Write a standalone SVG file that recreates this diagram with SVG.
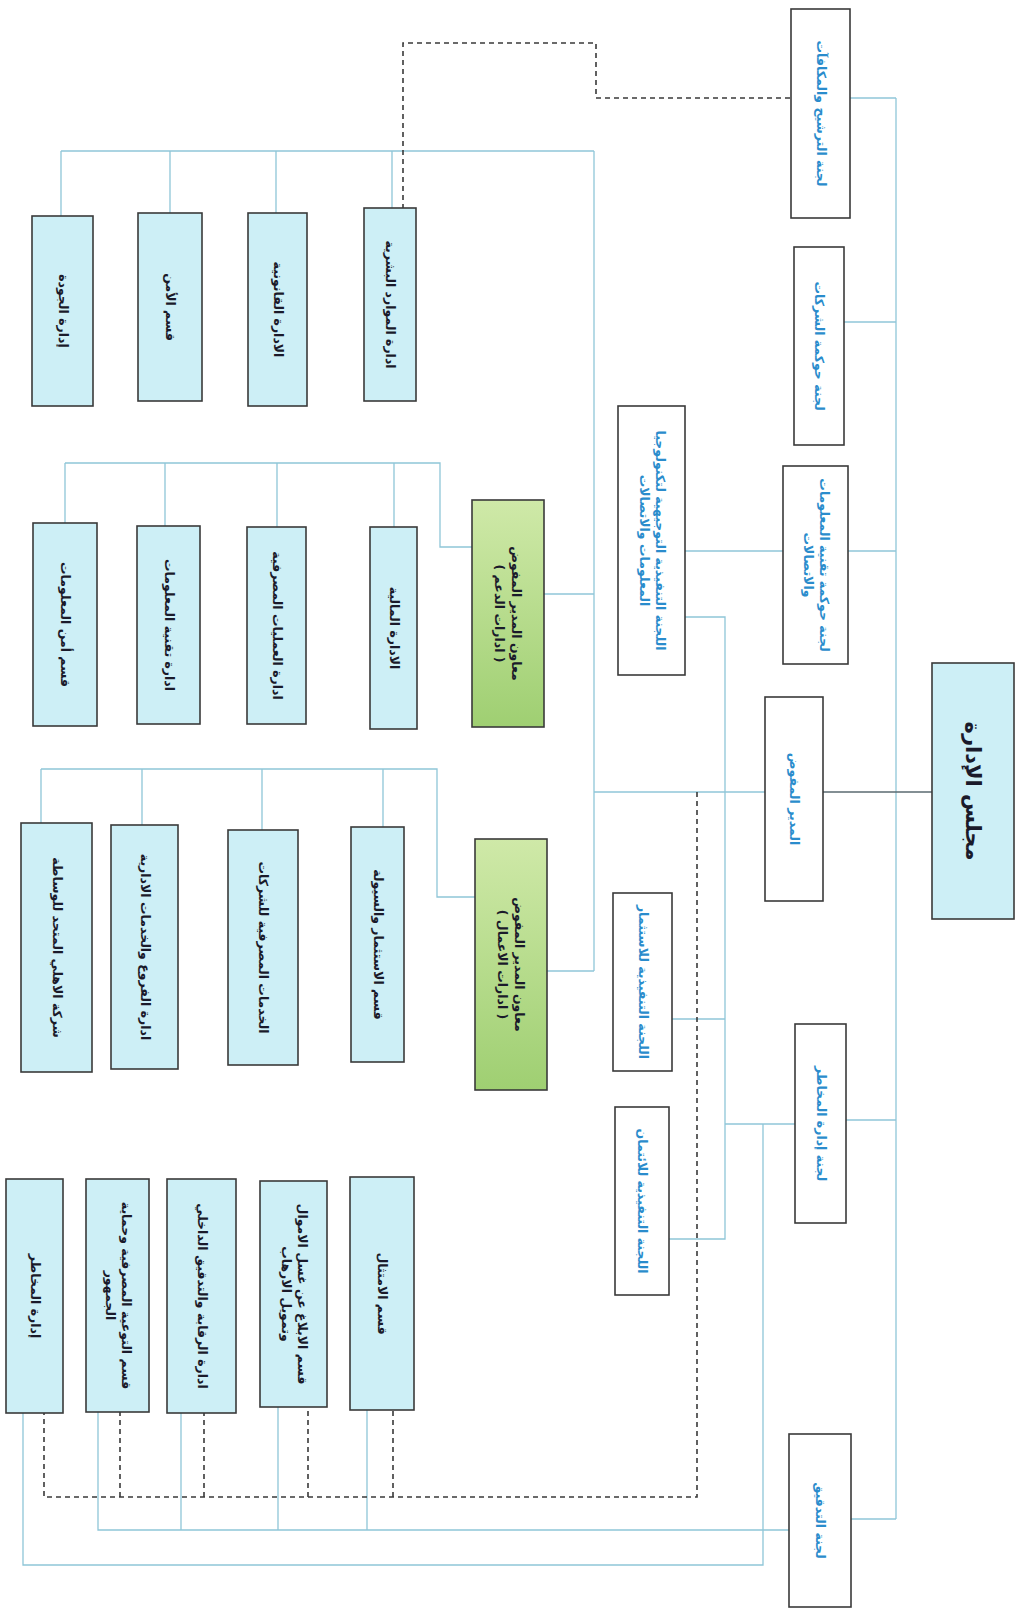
<svg xmlns="http://www.w3.org/2000/svg" width="1020" height="1614" viewBox="0 0 1020 1614">
<defs>
<linearGradient id="grn" x1="0" y1="0" x2="0" y2="1">
<stop offset="0" stop-color="#cfe9a8"/>
<stop offset="1" stop-color="#9fcf72"/>
</linearGradient>
<style>
.box{stroke:#3a3a3a;stroke-width:1.6}
.w{fill:#ffffff}
.b{fill:#cdeff6}
.g{fill:url(#grn)}
.ln{fill:none;stroke:#8fc6d8;stroke-width:1.3}
.dk{fill:none;stroke:#5a6a70;stroke-width:1.4}
.ds{fill:none;stroke:#3a3a3a;stroke-width:1.6;stroke-dasharray:5 4}
text{font-family:"DejaVu Sans",sans-serif;font-weight:bold;font-size:12.5px;text-anchor:middle;direction:rtl}
.tb{fill:#2a8ccc}
.tk{fill:#1a1a2a}
.big{font-size:21px}
</style>
</defs>
<rect width="1020" height="1614" fill="#ffffff"/>

<g id="connectors">
<path class="ln" d="M896 98 V1519"/>
<path class="ln" d="M850 98 H896"/>
<path class="ln" d="M844 322 H896"/>
<path class="ln" d="M848 551 H896"/>
<path class="ln" d="M846 1120 H896"/>
<path class="ln" d="M851 1519 H896"/>
<path class="dk" d="M932 792 H823"/>
<path class="ln" d="M765 792 H594"/>
<path class="ln" d="M594 151 V971"/>
<path class="ln" d="M61 151 H594"/>
<path class="ln" d="M61 151 V216 M170 151 V213 M276 151 V213 M392 151 V208"/>
<path class="ln" d="M544 594 H594"/>
<path class="ln" d="M547 971 H594"/>
<path class="ln" d="M472 547 H440 V463 H65"/>
<path class="ln" d="M65 463 V523 M165 463 V526 M277 463 V527 M394 463 V527"/>
<path class="ln" d="M475 897 H437 V769 H41"/>
<path class="ln" d="M41 769 V823 M142 769 V825 M262 769 V830 M383 769 V827"/>
<path class="ln" d="M783 551 H685"/>
<path class="ln" d="M685 617 H725 V1239 H669"/>
<path class="ln" d="M672 1019 H725"/>
<path class="ln" d="M725 1124 H795"/>
<path class="ln" d="M763 1124 V1565 H23 V1413"/>
<path class="ln" d="M789 1530 H98 V1412"/>
<path class="ln" d="M181 1530 V1413 M278 1530 V1407 M367 1530 V1410"/>
<path class="ds" d="M790 98 H596 V43 H403 V208"/>
<path class="ds" d="M697 792 V1497 H44 V1413"/>
<path class="ds" d="M120 1497 V1412 M204 1497 V1413 M308 1497 V1407 M393 1497 V1410"/>
</g>

<g id="board">
<rect class="box b" x="932" y="663" width="82" height="256"/>
<text class="tk big" transform="translate(973 791) rotate(90)" y="7">مجلس الإدارة</text>
</g>

<g id="c-nomination">
<rect class="box w" x="791" y="9" width="59" height="209"/>
<text class="tb" transform="translate(820.5 113.5) rotate(90)" y="4">لجنة الترشيح والمكافآت</text>
</g>
<g id="c-governance">
<rect class="box w" x="794" y="247" width="50" height="198"/>
<text class="tb" transform="translate(819 346) rotate(90)" y="4">لجنة حوكمة الشركات</text>
</g>
<g id="c-itgov">
<rect class="box w" x="783" y="466" width="65" height="198"/>
<text class="tb" transform="translate(815.5 565) rotate(90)"><tspan x="0" y="-4">لجنة حوكمة تقنية المعلومات</tspan><tspan x="0" y="12">والاتصالات</tspan></text>
</g>
<g id="md">
<rect class="box w" x="765" y="697" width="58" height="204"/>
<text class="tb" transform="translate(794 799) rotate(90)" y="4">المدير المفوض</text>
</g>
<g id="c-risk">
<rect class="box w" x="795" y="1024" width="51" height="199"/>
<text class="tb" transform="translate(820.5 1123.5) rotate(90)" y="4">لجنة إدارة المخاطر</text>
</g>
<g id="c-audit">
<rect class="box w" x="789" y="1434" width="62" height="173"/>
<text class="tb" transform="translate(820 1520.5) rotate(90)" y="4">لجنة التدقيق</text>
</g>

<g id="e-it">
<rect class="box w" x="618" y="406" width="67" height="269"/>
<text class="tb" transform="translate(651.5 540.5) rotate(90)"><tspan x="0" y="-4">اللجنة التنفيذية التوجيهية لتكنولوجيا</tspan><tspan x="0" y="12">المعلومات والاتصالات</tspan></text>
</g>
<g id="e-invest">
<rect class="box w" x="613" y="893" width="59" height="178"/>
<text class="tb" transform="translate(642.5 982) rotate(90)" y="4">اللجنة التنفيذية للاستثمار</text>
</g>
<g id="e-credit">
<rect class="box w" x="615" y="1107" width="54" height="188"/>
<text class="tb" transform="translate(642 1201) rotate(90)" y="4">اللجنة التنفيذية للائتمان</text>
</g>

<g id="g-support">
<rect class="box g" x="472" y="500" width="72" height="227"/>
<text class="tk" transform="translate(508 613.5) rotate(90)"><tspan x="0" y="-4">معاون المدير المفوض</tspan><tspan x="0" y="13">( ادارات الدعم )</tspan></text>
</g>
<g id="g-business">
<rect class="box g" x="475" y="839" width="72" height="251"/>
<text class="tk" transform="translate(511 964.5) rotate(90)"><tspan x="0" y="-4">معاون المدير المفوض</tspan><tspan x="0" y="13">( ادارات الاعمال )</tspan></text>
</g>

<g id="t-hr">
<rect class="box b" x="364" y="208" width="52" height="193"/>
<text class="tk" transform="translate(390 304.5) rotate(90)" y="4">ادارة الموارد البشرية</text>
</g>
<g id="t-legal">
<rect class="box b" x="248" y="213" width="59" height="193"/>
<text class="tk" transform="translate(277.5 309.5) rotate(90)" y="4">الادارة القانونية</text>
</g>
<g id="t-security">
<rect class="box b" x="138" y="213" width="64" height="188"/>
<text class="tk" transform="translate(170 307) rotate(90)" y="4">قسم الأمن</text>
</g>
<g id="t-quality">
<rect class="box b" x="32" y="216" width="61" height="190"/>
<text class="tk" transform="translate(62.5 311) rotate(90)" y="4">إدارة الجودة</text>
</g>

<g id="s-finance">
<rect class="box b" x="370" y="527" width="47" height="202"/>
<text class="tk" transform="translate(393.5 628) rotate(90)" y="4">الادارة المالية</text>
</g>
<g id="s-ops">
<rect class="box b" x="247" y="527" width="59" height="197"/>
<text class="tk" transform="translate(276.5 625.5) rotate(90)" y="4">ادارة العمليات المصرفية</text>
</g>
<g id="s-it">
<rect class="box b" x="137" y="526" width="63" height="198"/>
<text class="tk" transform="translate(168.5 625) rotate(90)" y="4">ادارة تقنية المعلومات</text>
</g>
<g id="s-infosec">
<rect class="box b" x="33" y="523" width="64" height="203"/>
<text class="tk" transform="translate(65 624.5) rotate(90)" y="4">قسم أمن المعلومات</text>
</g>

<g id="b-invest">
<rect class="box b" x="351" y="827" width="53" height="235"/>
<text class="tk" transform="translate(377.5 944.5) rotate(90)" y="4">قسم الاستثمار والسيولة</text>
</g>
<g id="b-corporate">
<rect class="box b" x="228" y="830" width="70" height="235"/>
<text class="tk" transform="translate(263 947.5) rotate(90)" y="4">الخدمات المصرفية للشركات</text>
</g>
<g id="b-branches">
<rect class="box b" x="111" y="825" width="67" height="244"/>
<text class="tk" transform="translate(144.5 947) rotate(90)" y="4">ادارة الفروع والخدمات الادارية</text>
</g>
<g id="b-brokerage">
<rect class="box b" x="21" y="823" width="71" height="249"/>
<text class="tk" transform="translate(56.5 947.5) rotate(90)" y="4">شركة الاهلي المتحد للوساطة</text>
</g>

<g id="r-compliance">
<rect class="box b" x="350" y="1177" width="64" height="233"/>
<text class="tk" transform="translate(382 1293.5) rotate(90)" y="4">قسم الامتثال</text>
</g>
<g id="r-aml">
<rect class="box b" x="260" y="1181" width="67" height="226"/>
<text class="tk" transform="translate(293.5 1294) rotate(90)"><tspan x="0" y="-4">قسم الابلاغ عن غسل الاموال</tspan><tspan x="0" y="12">وتمويل الارهاب</tspan></text>
</g>
<g id="r-audit">
<rect class="box b" x="167" y="1179" width="69" height="234"/>
<text class="tk" transform="translate(201.5 1296) rotate(90)" y="4">ادارة الرقابة والتدقيق الداخلي</text>
</g>
<g id="r-awareness">
<rect class="box b" x="86" y="1179" width="63" height="233"/>
<text class="tk" transform="translate(117.5 1295.5) rotate(90)"><tspan x="0" y="-4">قسم التوعية المصرفية وحماية</tspan><tspan x="0" y="12">الجمهور</tspan></text>
</g>
<g id="r-risk">
<rect class="box b" x="6" y="1179" width="57" height="234"/>
<text class="tk" transform="translate(34.5 1296) rotate(90)" y="4">إدارة المخاطر</text>
</g>
</svg>
